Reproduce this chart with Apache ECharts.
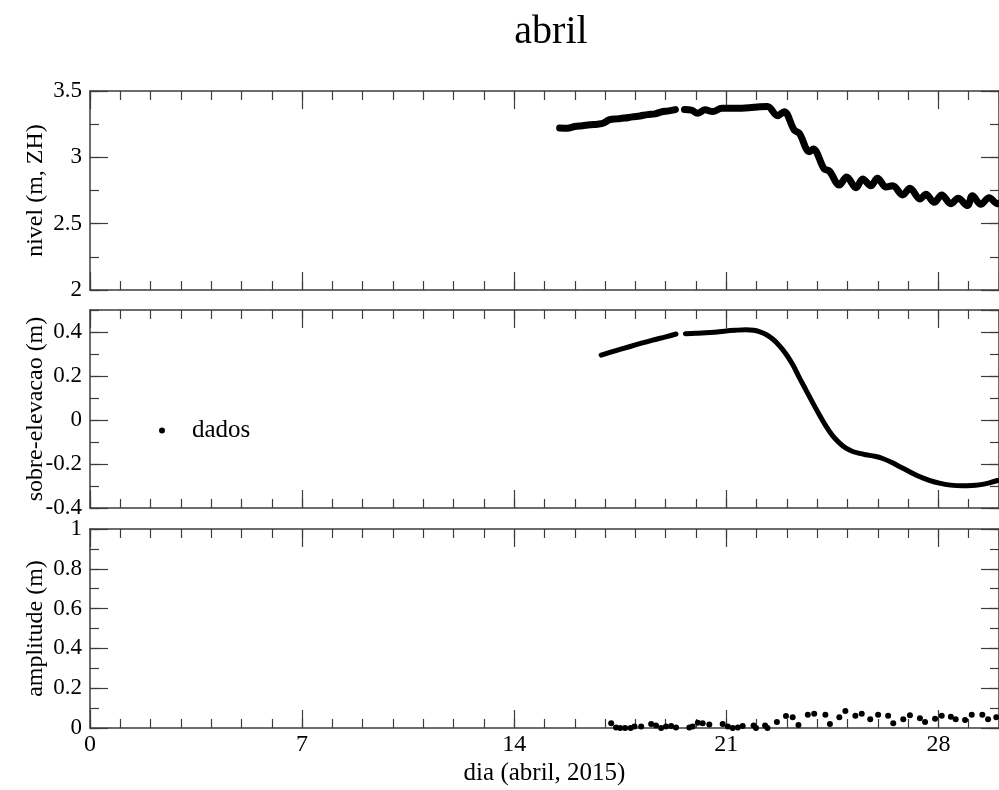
<!DOCTYPE html>
<html>
<head>
<meta charset="utf-8">
<script src="https://cdn.jsdelivr.net/npm/echarts@6/dist/echarts.min.js"></script>
<style>
  html, body { margin: 0; padding: 0; background: #fff; }
  #chart { width: 999px; height: 790px; }
</style>
</head>
<body>
<div id="chart"></div>
<script>
// nivel (m, ZH): antes e depois da falha de dados
const nivelA = [
  [15.50, 3.222], [15.75, 3.220], [16.00, 3.232], [16.25, 3.238], [16.50, 3.245],
  [16.75, 3.250], [16.95, 3.258], [17.15, 3.285], [17.40, 3.290], [17.65, 3.296],
  [17.90, 3.305], [18.15, 3.312], [18.40, 3.322], [18.65, 3.328], [18.85, 3.342],
  [19.10, 3.350], [19.32, 3.360]
];
const nivelB = [
  [19.62, 3.360], [19.85, 3.356], [20.05, 3.332], [20.30, 3.358], [20.55, 3.345],
  [20.85, 3.370], [21.30, 3.370], [21.75, 3.374], [22.10, 3.382], [22.36, 3.384],
  [22.69, 3.314], [22.91, 3.344], [23.24, 3.206], [23.41, 3.181], [23.74, 3.043],
  [23.87, 3.063], [24.23, 2.912], [24.40, 2.897], [24.73, 2.791], [24.97, 2.852],
  [25.28, 2.771], [25.50, 2.837], [25.77, 2.786], [25.99, 2.842], [26.27, 2.776],
  [26.49, 2.786], [26.82, 2.716], [27.06, 2.767], [27.39, 2.686], [27.59, 2.721],
  [27.86, 2.661], [28.11, 2.716], [28.41, 2.651], [28.65, 2.691], [28.96, 2.636],
  [29.12, 2.711], [29.40, 2.646], [29.67, 2.696], [29.95, 2.651], [30.00, 2.655]
];

// sobre-elevacao (m)
const sobreA = [
  [16.87, 0.295], [17.30, 0.313], [17.80, 0.333], [18.20, 0.349], [18.57, 0.363],
  [19.00, 0.378], [19.34, 0.391]
];
const sobreB = [
  [19.65, 0.392], [20.00, 0.394], [20.33, 0.397], [20.70, 0.400], [20.99, 0.405],
  [21.30, 0.408], [21.65, 0.410], [21.90, 0.408], [22.09, 0.402], [22.30, 0.390],
  [22.53, 0.368], [22.75, 0.338], [22.97, 0.300], [23.20, 0.250], [23.41, 0.193],
  [23.63, 0.136], [23.85, 0.079], [24.07, 0.024], [24.29, -0.028], [24.50, -0.070],
  [24.73, -0.104], [24.95, -0.128], [25.17, -0.143], [25.40, -0.152], [25.61, -0.158],
  [25.90, -0.165], [26.16, -0.175], [26.45, -0.192], [26.71, -0.211], [27.05, -0.235],
  [27.37, -0.257], [27.70, -0.274], [28.03, -0.287], [28.40, -0.296], [28.79, -0.299],
  [29.10, -0.298], [29.34, -0.295], [29.65, -0.287], [29.95, -0.275]
];

// amplitude (m)
const amplitude = [
  [17.20, 0.024], [17.36, 0.003], [17.50, 0.000], [17.66, 0.000], [17.84, 0.000],
  [17.97, 0.007], [18.19, 0.007], [18.52, 0.020], [18.68, 0.013], [18.85, 0.000],
  [19.01, 0.007], [19.18, 0.010], [19.34, 0.003], [19.78, 0.003], [19.89, 0.007],
  [20.06, 0.027], [20.22, 0.024], [20.44, 0.017], [20.88, 0.020], [21.05, 0.007],
  [21.21, 0.000], [21.38, 0.003], [21.54, 0.010], [21.90, 0.013], [21.98, 0.000],
  [22.28, 0.013], [22.36, 0.000], [22.67, 0.030], [22.97, 0.060], [23.19, 0.054],
  [23.38, 0.015], [23.69, 0.066], [23.90, 0.071], [24.27, 0.066], [24.42, 0.020],
  [24.73, 0.054], [24.93, 0.086], [25.26, 0.062], [25.47, 0.071], [25.75, 0.044],
  [26.01, 0.067], [26.34, 0.061], [26.51, 0.024], [26.84, 0.044], [27.06, 0.064],
  [27.39, 0.049], [27.56, 0.030], [27.89, 0.047], [28.11, 0.061], [28.41, 0.057],
  [28.57, 0.044], [28.88, 0.040], [29.10, 0.066], [29.45, 0.066], [29.64, 0.044],
  [29.91, 0.054]
];

const paineis = [
  { top: 91, height: 199, min: 2, max: 3.5, step: 0.5, name: 'nivel (m, ZH)', hideMax: false },
  { top: 310, height: 198, min: -0.4, max: 0.5, step: 0.2, name: 'sobre-elevacao (m)', hideMax: true },
  { top: 529, height: 199, min: 0, max: 1, step: 0.2, name: 'amplitude (m)', hideMax: false }
];

const fonte = 'Liberation Serif';
const corEixo = '#3c3c3c';

const grids = [];
const xAxes = [];
const yAxes = [];

paineis.forEach((p, i) => {
  grids.push({ left: 90, width: 911, top: p.top, height: p.height });
  const ultimo = i === paineis.length - 1;

  // eixos x: maior e menor, embaixo e em cima
  ['bottom', 'top'].forEach(pos => {
    [true, false].forEach(maior => {
      const mostra = maior && pos === 'bottom' && ultimo;
      xAxes.push({
        gridIndex: i, type: 'value', position: pos,
        min: 0, max: 30, interval: maior ? 7 : 1,
        axisLine: { show: maior, onZero: false, lineStyle: { color: corEixo, width: 1.5 } },
        axisTick: { inside: true, length: maior ? 18 : 9, lineStyle: { color: corEixo, width: 1.2 } },
        axisLabel: {
          show: mostra, showMaxLabel: false, margin: 5,
          color: '#000', fontFamily: fonte, fontSize: 24
        },
        splitLine: { show: false },
        name: mostra ? 'dia (abril, 2015)' : '',
        nameLocation: 'middle', nameGap: 33, nameMoveOverlap: false,
        nameTextStyle: { color: '#000', fontFamily: fonte, fontSize: 25 }
      });
    });
  });

  // eixos y: maior e menor, esquerda e direita
  ['left', 'right'].forEach(pos => {
    [true, false].forEach(maior => {
      const mostra = maior && pos === 'left';
      yAxes.push({
        gridIndex: i, type: 'value', position: pos,
        min: p.min, max: p.max, interval: maior ? p.step : p.step / 2,
        axisLine: { show: maior, onZero: false, lineStyle: { color: corEixo, width: 1.5 } },
        axisTick: { inside: true, length: maior ? 18 : 9, lineStyle: { color: corEixo, width: 1.2 } },
        axisLabel: {
          show: mostra, showMaxLabel: !p.hideMax, margin: 8,
          color: '#000', fontFamily: fonte, fontSize: 23
        },
        splitLine: { show: false },
        name: mostra ? p.name : '',
        nameLocation: 'middle', nameGap: 42, nameMoveOverlap: false,
        nameTextStyle: { color: '#000', fontFamily: fonte, fontSize: 24 }
      });
    });
  });
});

const linha = (dados, painel, largura) => ({
  name: 'dados', type: 'line', data: dados,
  xAxisIndex: painel * 4, yAxisIndex: painel * 4,
  showSymbol: false, smooth: 0.35, silent: true,
  lineStyle: { color: '#000', width: largura, cap: 'round', join: 'round' },
  itemStyle: { color: '#000' }
});

const option = {
  animation: false,
  backgroundColor: '#fff',
  title: {
    text: 'abril', left: 546, top: 7, textAlign: 'center',
    textStyle: { color: '#000', fontFamily: fonte, fontSize: 40, fontWeight: 'normal' }
  },
  legend: {
    data: [{ name: 'dados', icon: 'circle' }],
    left: 154, top: 413, itemWidth: 6, itemHeight: 6,
    selectedMode: false,
    textStyle: { color: '#000', fontFamily: fonte, fontSize: 25, padding: [0, 0, 0, 22] }
  },
  grid: grids,
  xAxis: xAxes,
  yAxis: yAxes,
  series: [
    linha(nivelA, 0, 7),
    linha(nivelB, 0, 7),
    linha(sobreA, 1, 5),
    linha(sobreB, 1, 5),
    {
      name: 'dados', type: 'scatter', data: amplitude,
      xAxisIndex: 8, yAxisIndex: 8, symbolSize: 6, silent: true,
      itemStyle: { color: '#000', opacity: 1 }
    }
  ]
};

const chart = echarts.init(document.getElementById('chart'));
chart.setOption(option);
</script>
</body>
</html>
